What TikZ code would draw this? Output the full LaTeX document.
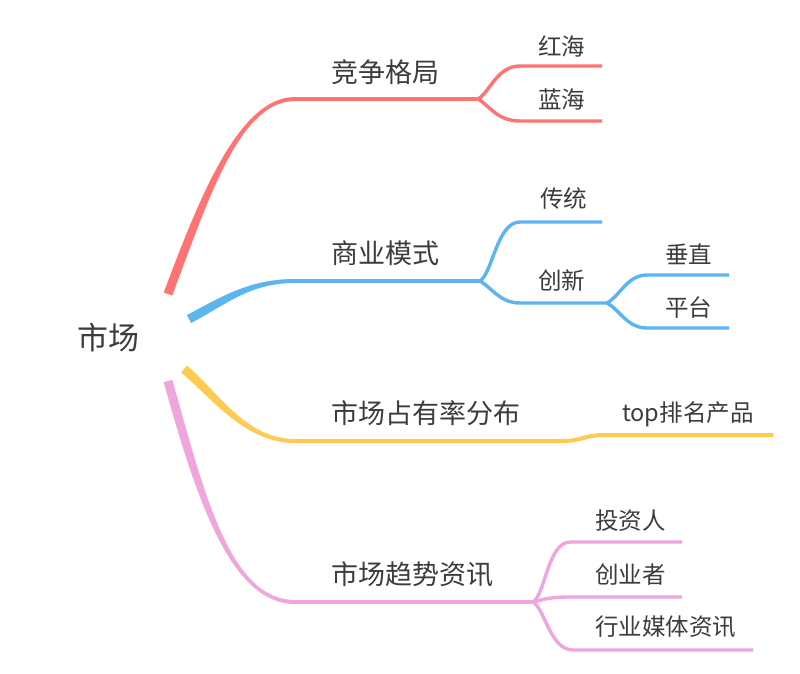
\documentclass[tikz,border=0pt]{standalone}
\usepackage{fontspec}
\setmainfont{Noto Sans CJK SC}
\usetikzlibrary{calc}
\definecolor{mapred}{HTML}{FF7373}
\definecolor{mapblue}{HTML}{5CB5EF}
\definecolor{mapyellow}{HTML}{FFCA50}
\definecolor{mappink}{HTML}{EFA6DC}
\definecolor{maptext}{HTML}{3C3C3C}
\newcommand{\rootwidth}{4.5pt}
\newcommand{\tipwidth}{2pt}
\tikzset{twig/.style={draw=#1,line width=3.4pt},twig/.default=mapred}
\tikzset{stem/.style={draw=#1,line width=4pt},stem/.default=mapred}
\tikzset{rootlabel/.style={color=maptext,inner sep=0pt,font=\fontsize{31pt}{34pt}\selectfont}}
\tikzset{toplabel/.style={color=maptext,inner sep=0pt,anchor=west,font=\fontsize{27pt}{30pt}\selectfont}}
\tikzset{leaflabel/.style={color=maptext,inner sep=0pt,anchor=west,font=\fontsize{23.5pt}{26pt}\selectfont}}
% tapered stroke from the centre out to a branch
\newcommand{\taper}[5]{%
	\fill[#1] ($(#2)!\rootwidth!90:(#3)$) .. controls ($(#3)!\rootwidth!-90:(#2)$) and ($(#4)!\tipwidth!90:(#5)$) .. ($(#5)!\tipwidth!-90:(#4)$) --
		($(#5)!\tipwidth!90:(#4)$) .. controls ($(#4)!\tipwidth!-90:(#5)$) and ($(#3)!\rootwidth!90:(#2)$) .. ($(#2)!\rootwidth!-90:(#3)$) -- cycle;}

\begin{document}
\begin{tikzpicture}[x=1pt,y=-1pt,line cap=butt]
		\useasboundingbox[fill=white] (0,0) rectangle (800,673);
		\node [rootlabel] (market) at (108,338) {市场};

		% competition
		\coordinate (redroot) at (168,294);
		\coordinate (redc1) at (205,195);
		\coordinate (redc2) at (240,99);
		\coordinate (compL) at (295,99);
		\coordinate (compR) at (478,99);
		\coordinate (redseaL) at (520,66);
		\coordinate (redseaR) at (602,66);
		\coordinate (blueseaL) at (520,121);
		\coordinate (blueseaR) at (602,121);
		\taper{mapred}{redroot}{redc1}{redc2}{compL}
		\draw [stem] (compL) -- (compR);
		\draw [twig] (compR) .. controls (490,92) and (497,66) .. (redseaL) -- (redseaR);
		\draw [twig] (compR) .. controls (490,106) and (497,121) .. (blueseaL) -- (blueseaR);
		\node [toplabel] (comp) at (331,72) {竞争格局};
		\node [leaflabel] (redsea) at (538,46) {红海};
		\node [leaflabel] (bluesea) at (538,99) {蓝海};

		% business model
		\coordinate (blueroot) at (189,319);
		\coordinate (bluec1) at (225,300);
		\coordinate (bluec2) at (250,281);
		\coordinate (modelL) at (295,281);
		\coordinate (modelR) at (480,281);
		\coordinate (tradL) at (520,222);
		\coordinate (tradR) at (602,222);
		\coordinate (innovL) at (520,303);
		\coordinate (innovR) at (607,303);
		\coordinate (vertL) at (647,275);
		\coordinate (vertR) at (729,275);
		\coordinate (platL) at (647,328);
		\coordinate (platR) at (729,328);
		\taper{mapblue}{blueroot}{bluec1}{bluec2}{modelL}
		\draw [stem=mapblue] (modelL) -- (modelR);
		\draw [twig=mapblue] (modelR) .. controls (493,272) and (497,222) .. (tradL) -- (tradR);
		\draw [twig=mapblue] (modelR) .. controls (492,288) and (500,303) .. (innovL) -- (innovR);
		\draw [twig=mapblue] (innovR) .. controls (620,296) and (627,275) .. (vertL) -- (vertR);
		\draw [twig=mapblue] (innovR) .. controls (620,310) and (627,328) .. (platL) -- (platR);
		\node [toplabel] (model) at (331,253) {商业模式};
		\node [leaflabel] (trad) at (540,199) {传统};
		\node [leaflabel] (innov) at (538,280) {创新};
		\node [leaflabel] (vert) at (665,254) {垂直};
		\node [leaflabel] (plat) at (665,308) {平台};

		% market share
		\coordinate (yellowroot) at (184,369);
		\coordinate (yellowc1) at (215,395);
		\coordinate (yellowc2) at (245,441);
		\coordinate (shareL) at (295,441);
		\coordinate (shareR) at (560,441);
		\coordinate (topL) at (605,435);
		\coordinate (topR) at (773,435);
		\taper{mapyellow}{yellowroot}{yellowc1}{yellowc2}{shareL}
		\draw [stem=mapyellow] (shareL) -- (shareR) .. controls (585,441) and (582,435) .. (topL) -- (topR);
		\node [toplabel] (share) at (331,413) {市场占有率分布};
		\node [leaflabel] (top) at (622,414) {top排名产品};

		% market trends
		\coordinate (pinkroot) at (168,381);
		\coordinate (pinkc1) at (200,495);
		\coordinate (pinkc2) at (230,602);
		\coordinate (trendL) at (295,602);
		\coordinate (trendR) at (533,602);
		\coordinate (investL) at (570,542);
		\coordinate (investR) at (682,542);
		\coordinate (founderL) at (570,597);
		\coordinate (founderR) at (682,597);
		\coordinate (mediaL) at (573,650);
		\coordinate (mediaR) at (753,650);
		\taper{mappink}{pinkroot}{pinkc1}{pinkc2}{trendL}
		\draw [stem=mappink] (trendL) -- (trendR);
		\draw [twig=mappink] (trendR) .. controls (545,595) and (548,542) .. (investL) -- (investR);
		\draw [twig=mappink] (trendR) .. controls (545,599) and (550,597) .. (founderL) -- (founderR);
		\draw [twig=mappink] (trendR) .. controls (545,609) and (550,650) .. (mediaL) -- (mediaR);
		\node [toplabel] (trend) at (331,574) {市场趋势资讯};
		\node [leaflabel] (invest) at (595,521) {投资人};
		\node [leaflabel] (founder) at (595,575) {创业者};
		\node [leaflabel] (media) at (595,627) {行业媒体资讯};
	\end{tikzpicture}
\end{document}
